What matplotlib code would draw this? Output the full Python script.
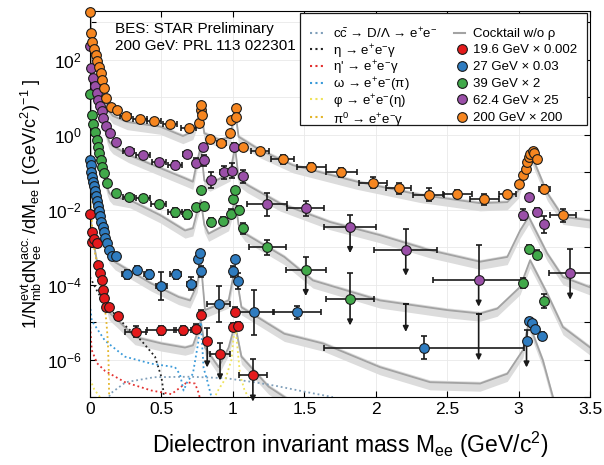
import numpy as np
import matplotlib
matplotlib.use('Agg')
import matplotlib.pyplot as plt
from matplotlib.patches import Rectangle
from matplotlib.ticker import LogLocator, MultipleLocator, FuncFormatter, NullLocator

plt.rcParams['font.family'] = ['Liberation Sans', 'DejaVu Sans']
plt.rcParams['mathtext.fontset'] = 'custom'
plt.rcParams['mathtext.rm'] = 'Liberation Sans'
plt.rcParams['mathtext.it'] = 'Liberation Sans'
plt.rcParams['mathtext.bf'] = 'Liberation Sans:bold'

# ---------------- data ----------------
# 19.6 GeV x 0.002
m_196 = [0.002, 0.012, 0.016, 0.03, 0.047, 0.058, 0.07, 0.082, 0.089, 0.10, 0.112, 0.135,
         0.198, 0.32, 0.50, 0.65, 0.74, 0.78, 0.82, 0.91, 1.0, 1.015, 1.035, 1.14]
y_196 = [7.9e-3, 1.4e-3, 2.6e-3, 1.7e-3, 1.3e-3, 3.3e-4, 2.0e-4, 1.3e-4, 7.4e-5, 4.5e-5, 2.6e-5, 2.6e-5,
         1.45e-5, 5.5e-6, 6.0e-6, 6.0e-6, 6.7e-6, 1.6e-5, 3.1e-6, 1.4e-6, 7.4e-6, 1.9e-5, 7.9e-6, 3.8e-7]
xe_196 = [0] * 12 + [0.02, 0.075, 0.1, 0.06, 0.02, 0, 0, 0.07, 0, 0, 0, 0.1]
re_196 = [0.1] * 9 + [0.15, 0.15, 0.15, 0.2, 0.4, 0.3, 0.3, 0.3, 0.3, 1.2, 1.0, 0.3, 0.3, 0.3, 1.8]
ul_196 = [0] * 18 + [1, 1, 0, 0, 0, 1]

# 27 GeV x 0.03
m_27 = [0.003, 0.005, 0.007, 0.016, 0.023, 0.03, 0.035, 0.04, 0.047, 0.054,
        0.061, 0.07, 0.077, 0.089, 0.098, 0.107, 0.117, 0.135, 0.156, 0.18,
        0.257, 0.33, 0.41, 0.50, 0.60, 0.71, 0.758, 0.77, 0.78, 0.90,
        1.0, 1.015, 1.035, 1.15, 1.45, 2.34, 3.055, 3.07, 3.09, 3.115, 3.16]
y_27 = [0.21, 0.16, 0.10, 0.075, 0.056, 0.043, 0.032, 0.023, 0.017, 0.0126,
        0.0094, 0.0067, 0.0048, 0.0035, 0.0026, 0.0018, 0.0013, 8.3e-4, 6.0e-4, 5.9e-4,
        1.9e-4, 2.5e-4, 1.9e-4, 9.1e-5, 1.9e-4, 1.07e-4, 5.0e-4, 7.1e-4, 2.3e-4, 3.1e-5,
        2.3e-4, 5.0e-4, 1.26e-4, 1.85e-5, 1.85e-5, 2.1e-6, 3.1e-6, 1.07e-5, 9.5e-6, 6.7e-6, 4.3e-6]
xe_27 = [0] * 20 + [0.03, 0.02, 0.03, 0.04, 0.04, 0.03, 0, 0, 0, 0.08,
                    0, 0, 0, 0.14, 0.17, 0.7, 0, 0, 0, 0, 0]
re_27 = [0.08] * 18 + [0.15, 0.2, 0.3, 0.3, 0.3, 1.4, 0.3, 0.5, 0.2, 0.2, 0.4, 2.0,
                       0.4, 0.2, 0.6, 3.0, 0.5, 1.0, 1.0, 0.2, 0.2, 0.3, 0.3]
ul_27 = [0] * 36 + [1, 0, 0, 0, 0]

# 39 GeV x 2
m_39 = [0.003, 0.012, 0.023, 0.035, 0.047, 0.058, 0.065, 0.075, 0.086, 0.098,
        0.117, 0.18, 0.27, 0.37, 0.48, 0.595, 0.68, 0.74, 0.78, 0.80,
        0.85, 0.93, 0.99, 1.0, 1.015, 1.04, 1.07, 1.24, 1.51, 1.82,
        3.03, 3.075, 3.125, 3.18]
y_39 = [12, 3.4, 1.95, 1.2, 0.72, 0.48, 0.32, 0.21, 0.14, 0.093,
        0.052, 0.028, 0.022, 0.021, 0.014, 0.0085, 0.0075, 0.012, 0.033, 0.0126,
        0.0047, 0.005, 0.0079, 0.019, 0.033, 0.0098, 0.0032, 0.001, 2.5e-4, 4.1e-5,
        1.1e-4, 8.9e-4, 6.3e-4, 3.6e-5]
xe_39 = [0] * 12 + [0.04, 0.05, 0.05, 0.05, 0.03, 0, 0, 0, 0.02, 0.02, 0, 0, 0, 0, 0,
                    0.13, 0.14, 0.17, 0, 0, 0, 0]
re_39 = [0.08] * 12 + [0.15, 0.15, 0.2, 0.3, 0.3, 0.2, 0.15, 0.2, 0.3, 0.3, 0.3, 0.2, 0.2,
                       0.3, 0.4, 0.6, 1.2, 3.9, 0.36, 0.3, 0.3, 0.55]
ul_39 = [0] * 28 + [1, 1, 0, 0, 0, 0]
# 39 GeV upper limits drawn without a marker
ulm_39 = [2.21, 2.72]
ulhi_39 = [3.1e-5, 1.7e-5]
ullo_39 = [5.5e-6, 9.5e-7]

# 62.4 GeV x 25
m_624 = [0.003, 0.008, 0.023, 0.035, 0.047, 0.058, 0.07, 0.082, 0.093, 0.11,
         0.14, 0.18, 0.27, 0.37, 0.485, 0.595, 0.68, 0.745, 0.79, 0.80,
         0.85, 0.94, 0.995, 1.01, 1.07, 1.24, 1.51, 1.82, 2.21, 2.72,
         3.03, 3.075, 3.13, 3.18, 3.36]
y_624 = [228, 60, 32, 20, 13, 8.5, 5.9, 4.2, 2.8, 1.7,
         1.1, 0.66, 0.36, 0.29, 0.19, 0.16, 0.31, 0.18, 0.48, 0.21,
         0.062, 0.10, 0.11, 0.48, 0.079, 0.014, 0.011, 0.0035, 8.7e-4, 1.3e-4,
         0.0074, 0.022, 0.0087, 0.0041, 2.0e-4]
xe_624 = [0] * 12 + [0.04, 0.05, 0.05, 0.05, 0.03, 0.02, 0, 0, 0.02, 0.03, 0, 0, 0.02,
                     0.14, 0.13, 0.18, 0.22, 0.32, 0, 0, 0.02, 0, 0.15]
re_624 = [0.08] * 12 + [0.15, 0.15, 0.2, 0.25, 0.2, 0.3, 0.2, 0.4, 0.6, 0.5, 0.6, 0.3, 0.5,
                        1.0, 0.6, 1.1, 2.6, 8.0, 0.4, 0.2, 0.3, 0.7, 3.4]
ul_624 = [0] * 27 + [1, 1, 1, 0, 0, 0, 0, 1]

# 200 GeV x 200
m_200 = [0.003, 0.01, 0.015, 0.03, 0.04, 0.05, 0.065, 0.075, 0.085, 0.1,
         0.11, 0.145, 0.19, 0.25, 0.35, 0.45, 0.56, 0.69, 0.76, 0.775,
         0.777, 0.785, 0.84, 0.92, 0.98, 0.99, 1.02, 1.025, 1.07, 1.19,
         1.35, 1.55, 1.76, 1.98, 2.16, 2.37, 2.57, 2.76, 2.92, 3.0,
         3.03, 3.05, 3.06, 3.075, 3.08, 3.1, 3.11, 3.125, 3.18, 3.31]
y_200 = [1900, 537, 295, 194, 136, 96, 66, 44, 29, 17.6,
         9.5, 5.6, 4.6, 3.2, 2.6, 2.3, 2.0, 1.56, 2.1, 4.6,
         6.3, 3.4, 0.76, 0.59, 1.12, 2.5, 5.3, 3.0, 0.48, 0.36,
         0.22, 0.14, 0.10, 0.053, 0.037, 0.025, 0.026, 0.019, 0.027, 0.050,
         0.085, 0.12, 0.19, 0.26, 0.31, 0.37, 0.32, 0.22, 0.036, 0.0072]
xe_200 = [0] * 12 + [0.02, 0.04, 0.05, 0.05, 0.05, 0.05, 0, 0, 0, 0, 0.02, 0.03, 0, 0, 0, 0,
                     0.02, 0.06, 0.08, 0.1, 0.11, 0.1, 0.09, 0.11, 0.1, 0.1, 0.06,
                     0, 0, 0, 0, 0, 0, 0, 0, 0, 0.04, 0.09]
re_200 = [0.05] * 12 + [0.08, 0.1, 0.1, 0.1, 0.1, 0.1, 0.05, 0.05, 0.05, 0.05, 0.15, 0.15,
                        0.1, 0.05, 0.05, 0.05, 0.1, 0.15, 0.3, 0.3, 0.3, 0.4, 0.4, 0.5, 0.3, 0.4, 0.2,
                        0.1, 0.1, 0.1, 0.1, 0.1, 0.1, 0.1, 0.1, 0.1, 0.3, 0.5]
ul_200 = [0] * 50

# cocktails (w/o rho)
ck_m_196 = [0.0, 0.01, 0.02, 0.035, 0.05, 0.07, 0.09, 0.11, 0.135, 0.196, 0.315, 0.50,
            0.665, 0.72, 0.75, 0.775, 0.805, 0.90, 0.97, 1.015, 1.06, 1.25, 1.40, 1.5]
ck_y_196 = [0.05, 0.004, 0.0018, 8.3e-4, 4e-4, 1.8e-4, 8e-5, 3.8e-5, 1.8e-5, 1.1e-5, 4e-6, 2.7e-6,
            2.1e-6, 2.4e-6, 5e-6, 1.1e-5, 2.1e-6, 6.3e-7, 2.1e-6, 8.9e-6, 1.2e-6, 1.9e-7, 8e-8, 5e-8]
ck_m_27 = [0.0, 0.01, 0.02, 0.04, 0.06, 0.08, 0.1, 0.12, 0.135, 0.175, 0.43, 0.62, 0.70, 0.75, 0.775,
           0.805, 0.97, 1.015, 1.06, 1.36, 1.63, 2.03, 2.38, 2.73, 2.92, 3.03, 3.07, 3.17, 3.24, 3.3]
ck_y_27 = [1.5, 0.09, 0.05, 0.02, 0.009, 0.0045, 0.0018, 9e-4, 6e-4, 4e-4, 1.07e-4, 4.7e-5, 3.8e-5, 1.0e-4, 4.1e-4,
           2.1e-5, 3.8e-5, 2.9e-4, 2.5e-5, 4.9e-6, 2.7e-6, 6.3e-7, 2.5e-7, 2.3e-7, 4.2e-7, 1.8e-6, 9.8e-6, 9.5e-7, 1e-7, 3e-8]
ck_m_39 = [0.0, 0.01, 0.02, 0.04, 0.06, 0.08, 0.1, 0.12, 0.135, 0.16, 0.28, 0.49, 0.665, 0.72, 0.75, 0.775,
           0.80, 0.83, 0.97, 1.015, 1.04, 1.085, 1.36, 1.56, 2.03, 2.5, 2.73, 2.85, 3.01, 3.08, 3.2, 3.31, 3.5]
ck_y_39 = [60, 3.5, 1.9, 0.75, 0.38, 0.17, 0.08, 0.04, 0.028, 0.022, 0.018, 0.0072, 0.0028, 0.0032, 0.009, 0.018,
           0.004, 0.0023, 0.0044, 0.018, 0.004, 0.0023, 5.5e-4, 1.3e-4, 3.8e-5, 2.1e-5, 1.7e-5, 2.3e-5, 8.7e-5, 4.5e-4,
           5.8e-5, 7.4e-6, 2.1e-6]
ck_m_624 = [0.0, 0.01, 0.02, 0.04, 0.06, 0.08, 0.1, 0.12, 0.135, 0.16, 0.27, 0.49, 0.665, 0.72, 0.75, 0.775,
            0.80, 0.84, 0.98, 1.015, 1.04, 1.10, 1.33, 1.68, 2.03, 2.38, 2.73, 2.92, 3.01, 3.07, 3.2, 3.31, 3.5]
ck_y_624 = [600, 70, 36, 15, 7.0, 3.6, 1.8, 0.95, 0.65, 0.5, 0.29, 0.13, 0.069, 0.056, 0.2, 0.48,
            0.06, 0.05, 0.093, 0.48, 0.069, 0.046, 0.0148, 0.0047, 0.0021, 8.3e-4, 4.1e-4, 5.5e-4, 0.0028, 0.0065,
            6.8e-4, 1.6e-4, 8.5e-5]
ck_m_200 = [0.0, 0.01, 0.02, 0.04, 0.06, 0.08, 0.1, 0.12, 0.135, 0.16, 0.26, 0.49, 0.65, 0.72, 0.75, 0.775,
            0.80, 0.91, 0.98, 1.015, 1.04, 1.19, 1.42, 1.87, 2.31, 2.73, 2.92, 3.0, 3.08, 3.2, 3.31, 3.5]
ck_y_200 = [3000, 450, 250, 120, 62, 30, 13, 6.5, 4.2, 3.2, 2.2, 1.66, 0.93, 1.2, 2.5, 4.6,
            1.1, 0.72, 0.89, 4.6, 0.89, 0.39, 0.155, 0.056, 0.025, 0.015, 0.016, 0.033, 0.35, 0.028, 0.0065, 0.0052]

# cocktail components (19.6 GeV scale)
ccbar_m = [0.08, 0.15, 0.25, 0.45, 0.7, 0.95, 1.15, 1.3, 1.5, 1.7]
ccbar_y = [5e-8, 1.3e-7, 2.5e-7, 3.4e-7, 3.5e-7, 3.2e-7, 2.5e-7, 2e-7, 1.4e-7, 1e-7]
eta_m = [0.0, 0.058, 0.128, 0.257, 0.36, 0.455, 0.50, 0.513, 0.53]
eta_y = [1.6e-4, 5.9e-5, 2.5e-5, 7.4e-6, 3.2e-6, 1.2e-6, 3.4e-7, 1.5e-7, 3e-8]
etap_m = [0.0, 0.012, 0.05, 0.105, 0.245, 0.43, 0.57, 0.68, 0.735, 0.76, 0.8]
etap_y = [1e-5, 1.8e-6, 8e-7, 5e-7, 2.5e-7, 1.5e-7, 1.2e-7, 2.5e-7, 2.3e-7, 1.3e-7, 3e-8]
omega_m = [0.0, 0.012, 0.105, 0.245, 0.43, 0.595, 0.63, 0.655, 0.68, 0.72, 0.755, 0.775, 0.795, 0.82, 0.85, 0.88]
omega_y = [3e-5, 1.1e-5, 3.2e-6, 1.2e-6, 7.8e-7, 6.3e-7, 4e-7, 1.5e-7, 2.5e-7, 4.2e-7, 2.5e-6, 1e-5, 6e-7, 2.8e-7, 1e-7, 4e-8]
phi_m = [0.0, 0.03, 0.07, 0.1, 0.12, 0.86, 0.9, 0.95, 0.99, 1.005, 1.018, 1.03, 1.05, 1.08, 1.12]
phi_y = [3e-7, 1.6e-7, 1e-7, 6e-8, 3e-8, 8e-8, 1.6e-7, 3.2e-7, 1e-6, 4e-6, 8e-6, 2.5e-6, 4e-7, 1.6e-7, 8e-8]
pi0_m = [0.0, 0.02, 0.05, 0.08, 0.1, 0.115, 0.125, 0.131, 0.135]
pi0_y = [0.03, 1.5e-3, 3.5e-4, 9e-5, 3.5e-5, 1e-5, 3e-6, 6e-7, 5e-8]

comp_labels = ['c$\\bar{\\mathrm{c}}$ \u2192 D/\u039b \u2192 e$^{+}$e$^{-}$',
               '\u03b7 \u2192 e$^{+}$e$^{-}$\u03b3',
               "\u03b7' \u2192 e$^{+}$e$^{-}$\u03b3",
               '\u03c9 \u2192 e$^{+}$e$^{-}$(\u03c0)',
               '\u03c6 \u2192 e$^{+}$e$^{-}$(\u03b7)',
               '\u03c0$^{0}$ \u2192 e$^{+}$e$^{-}$\u03b3']
comp_colors = ['#7f9fba', '#222222', '#e3302f', '#3a9ad9', '#efe35a', '#e3b52a']
series_labels = ['19.6 GeV \u00d7 0.002', '27 GeV \u00d7 0.03', '39 GeV \u00d7 2',
                 '62.4 GeV \u00d7 25', '200 GeV \u00d7 200']
series_colors = ['#e41a1c', '#2f7cc0', '#41a94a', '#9a4fa8', '#f68620']

# ---------------- plot ----------------
fig = plt.figure(figsize=(6.04, 4.65), dpi=100)
ax = fig.add_axes([0.149, 0.146, 0.828, 0.830])
ax.set_yscale('log')
ax.set_xlim(0, 3.5)
ax.set_ylim(1e-7, 2e3)


def cocktail(m, y):
    m = np.array(m)
    y = np.array(y)
    ax.fill_between(m, y / 1.6, y * 1.15, color='#dcdcdc', lw=0, zorder=1)
    ax.plot(m, y, color='#a3a3a3', lw=1.3, zorder=2)


def series(m, y, xe, re, ul, color):
    m, y, xe, re = map(np.array, (m, y, xe, re))
    ul = np.array(ul, dtype=bool)
    lo = np.where(ul, 0, y - y / (1 + re))
    hi = y * re
    ax.errorbar(m, y, xerr=xe, yerr=[lo, hi], fmt='none', ecolor='#1a1a1a',
                elinewidth=1.2, capsize=2.2, capthick=1.2, zorder=3)
    for xi, yi in zip(m[ul], y[ul]):
        ax.annotate('', xy=(xi, yi * 10 ** -0.7), xytext=(xi, yi),
                    arrowprops=dict(arrowstyle='-|>', color='#1a1a1a', lw=1.2,
                                    mutation_scale=8, shrinkA=0, shrinkB=0),
                    zorder=3, annotation_clip=False)
    ax.plot(m, y, 'o', ms=7, mfc=color, mec='#1a1a1a', mew=0.8, zorder=4, clip_on=False)


for cm, cy in [(ck_m_196, ck_y_196), (ck_m_27, ck_y_27), (ck_m_39, ck_y_39),
               (ck_m_624, ck_y_624), (ck_m_200, ck_y_200)]:
    cocktail(cm, cy)

comps = [(ccbar_m, ccbar_y), (eta_m, eta_y), (etap_m, etap_y),
         (omega_m, omega_y), (phi_m, phi_y), (pi0_m, pi0_y)]
for (cm, cy), c in zip(comps, comp_colors):
    ax.plot(cm, cy, ls=(0, (1, 1.6)), color=c, lw=1.3, zorder=2)

series(m_196, y_196, xe_196, re_196, ul_196, series_colors[0])
series(m_27, y_27, xe_27, re_27, ul_27, series_colors[1])
series(m_39, y_39, xe_39, re_39, ul_39, series_colors[2])
for xi, hi_, lo_ in zip(ulm_39, ulhi_39, ullo_39):
    ax.errorbar([xi], [hi_], yerr=[[0], [0]], fmt='none', ecolor='#1a1a1a', capsize=2.2, capthick=1.2, zorder=3)
    ax.annotate('', xy=(xi, lo_), xytext=(xi, hi_),
                arrowprops=dict(arrowstyle='-|>', color='#1a1a1a', lw=1.2,
                                mutation_scale=8, shrinkA=0, shrinkB=0), zorder=3)
series(m_624, y_624, xe_624, re_624, ul_624, series_colors[3])
series(m_200, y_200, xe_200, re_200, ul_200, series_colors[4])

# axes styling
ax.xaxis.set_major_locator(MultipleLocator(0.5))
ax.xaxis.set_major_formatter(FuncFormatter(lambda v, p: '%g' % v))
ax.yaxis.set_major_locator(LogLocator(base=10, numticks=20))
ax.yaxis.set_minor_locator(NullLocator())


def yfmt(v, pos):
    e = int(round(np.log10(v)))
    return '10$^{%d}$' % e if e % 2 == 0 else ''


ax.yaxis.set_major_formatter(FuncFormatter(yfmt))
ax.tick_params(direction='in', top=True, right=True, length=4, width=0.8, labelsize=12.5)
ax.tick_params(axis='y', pad=6)
ax.grid(True, color='#e9e9e9', lw=0.6)
ax.set_axisbelow(True)
for s in ax.spines.values():
    s.set_linewidth(0.8)

ax.set_xlabel('Dielectron invariant mass M$_{\\mathrm{ee}}$ (GeV/c$^{2}$)', fontsize=16.5, labelpad=5)
ax.xaxis.set_label_coords(0.52, -0.085)
ax.set_ylabel('1/N$_{\\mathrm{mb}}^{\\mathrm{evt}}$dN$_{\\mathrm{ee}}^{\\mathrm{acc.}}$/dM$_{\\mathrm{ee}}$'
              ' [ (GeV/c$^{2}$)$^{-1}$ ]', fontsize=13, labelpad=2)

ax.text(0.05, 0.972, 'BES: STAR Preliminary\n200 GeV: PRL 113 022301', transform=ax.transAxes,
        va='top', ha='left', fontsize=11, linespacing=1.25)

# legend box drawn by hand so the rows of both columns line up
T = ax.transAxes
ax.add_patch(Rectangle((0.42, 0.706), 0.574, 0.289, transform=T, fc='white', ec='#1a1a1a',
                       lw=0.9, zorder=10, clip_on=False))
row_y = [0.944, 0.902, 0.859, 0.815, 0.772, 0.726]
for yy, lab, c in zip(row_y, comp_labels, comp_colors):
    ax.plot([0.44, 0.466], [yy, yy], transform=T, ls=(0, (1, 1.6)), color=c, lw=1.5,
            zorder=11, clip_on=False)
    ax.text(0.486, yy, lab, transform=T, va='center_baseline', ha='left', fontsize=9.5, zorder=11)
right_labels = ['Cocktail w/o \u03c1'] + series_labels
for i, (yy, lab) in enumerate(zip(row_y, right_labels)):
    if i == 0:
        ax.plot([0.728, 0.75], [yy, yy], transform=T, color='#a3a3a3', lw=1.5, zorder=11, clip_on=False)
    else:
        ax.plot([0.743], [yy], 'o', transform=T, ms=7, mfc=series_colors[i - 1], mec='#1a1a1a',
                mew=0.8, zorder=11, clip_on=False)
    ax.text(0.766, yy, lab, transform=T, va='center_baseline', ha='left', fontsize=9.5, zorder=11)

fig.savefig('out.png', dpi=100)
